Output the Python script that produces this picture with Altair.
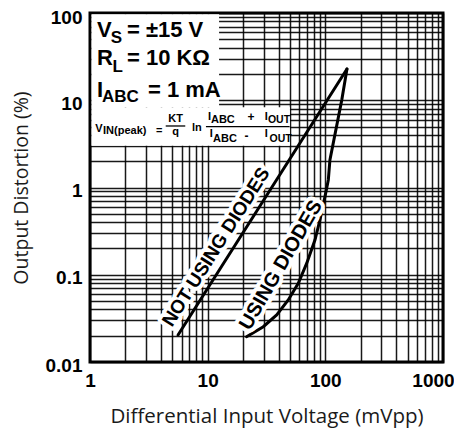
import altair as alt
import pandas as pd

# ---------------- data ----------------
not_using_x = [5.6, 152.7]
not_using_y = [0.0204, 22.8]
using_x = [21.4, 29.7, 38.6, 48.4, 58.9, 69.4, 81.6, 90.0, 99.3, 106.0, 109.4, 138.0, 152.7]
using_y = [0.0195, 0.0254, 0.0346, 0.0514, 0.0798, 0.135, 0.25, 0.425, 0.785, 1.22, 2.07, 10.1, 22.8]

x_tick_labels = [1, 10, 100, 1000]
y_tick_labels = [0.01, 0.1, 1, 10, 100]
x_grid = [1, 2, 3, 4, 5, 6, 7, 8, 9,
          10, 20, 30, 40, 50, 60, 70, 80, 90,
          100, 200, 300, 400, 500, 600, 700, 800, 900, 1000]
y_grid = [0.01, 0.02, 0.03, 0.04, 0.05, 0.06, 0.07, 0.08, 0.09,
          0.1, 0.2, 0.3, 0.4, 0.5, 0.6, 0.7, 0.8, 0.9,
          1, 2, 3, 4, 5, 6, 7, 8, 9,
          10, 20, 30, 40, 50, 60, 70, 80, 90, 100]

# conditions box (white background areas)
box_x = [1.03, 1.03]
box_x2 = [12.5, 50.0]
box_y = [8.3, 3.0]
box_y2 = [97.0, 8.3]

# condition text pieces
cond_text = ["V", "S", "= ±15 V", "R", "L", "= 10 KΩ", "I", "ABC", "= 1 mA"]
cond_x = [1.147, 1.50, 2.06, 1.147, 1.55, 2.06, 1.147, 1.265, 3.11]
cond_y = [53.1, 45.3, 53.1, 25.4, 21.1, 25.4, 10.9, 9.55, 10.9]
cond_size = [22, 17, 22, 22, 17, 22, 22, 17, 22]

# formula pieces (left aligned)
form_text = ["V", "IN(peak)", "=", "ln",
             "I", "ABC", "I", "OUT",
             "I", "ABC", "I", "OUT"]
form_x = [1.109, 1.29, 3.64, 7.36,
          10.06, 10.67, 30.5, 32.5,
          10.4, 11.1, 30.5, 33.6]
form_y = [4.36, 4.10, 4.10, 4.48,
          5.94, 5.53, 5.94, 5.44,
          3.76, 3.35, 3.76, 3.32]
form_size = [11, 11, 11, 11,
             11, 11, 11, 10.5,
             11, 11, 11, 10.5]
# formula pieces (centred)
formc_text = ["KT", "q", "+", "-"]
formc_x = [5.33, 5.33, 23.3, 21.4]
formc_y = [5.65, 3.95, 5.78, 3.50]
formc_size = [11, 11, 12, 12]
# fraction bars
bar_x = [4.40, 9.67]
bar_x2 = [6.45, 49.7]
bar_y = [5.07, 4.98]

# curve labels
lab_text = ["NOT USING DIODES", "USING DIODES"]
lab_x = [11.8, 42.0]
lab_y = [0.208, 0.129]
lab_angle = [302.4, 300.0]
lab_size = [19, 20]

# ---------------- chart ----------------
FONT_B = "Liberation Sans, Arial, sans-serif"
FONT_T = "Open Sans, Noto Sans, sans-serif"

xs = alt.Scale(type="log", domain=[1, 1000], nice=False)
ys = alt.Scale(type="log", domain=[0.01, 100], nice=False)

x_axis = alt.Axis(
    values=x_grid,
    title="Differential Input Voltage (mVpp)",
    labelExpr=f"indexof({x_tick_labels}, datum.value) >= 0 ? format(datum.value, '~g') : ''",
    labelPadding=9, titlePadding=16, labelFlush=False, titleFontSize=20.5,
    labelOffset=alt.expr("datum.value == 1000 ? -10 : 0"),
)
y_axis = alt.Axis(
    values=y_grid,
    title="Output Distortion (%)",
    labelExpr=f"indexof({y_tick_labels}, datum.value) >= 0 ? format(datum.value, '~g') : ''",
    labelPadding=8, titlePadding=14, labelFlush=False, titleFontSize=19.5,
    labelOffset=alt.expr("datum.value == 100 ? 4 : 3"),
)

X = alt.X("x:Q", scale=xs, axis=x_axis)
Y = alt.Y("y:Q", scale=ys, axis=y_axis)

rect_df = pd.DataFrame({"x": box_x, "x2": box_x2, "y": box_y, "y2": box_y2})
rects = alt.Chart(rect_df).mark_rect(color="white").encode(
    x=X, x2="x2:Q", y=Y, y2="y2:Q")

line_df = pd.concat([
    pd.DataFrame({"x": not_using_x, "y": not_using_y, "s": "not"}),
    pd.DataFrame({"x": using_x, "y": using_y, "s": "using"}),
])
lines = alt.Chart(line_df).mark_line(color="black", strokeWidth=3, strokeCap="round").encode(
    x=X, y=Y, detail="s:N")

lab_df = pd.DataFrame({"x": lab_x, "y": lab_y, "t": lab_text, "a": lab_angle, "s": lab_size})
halo = alt.Chart(lab_df).mark_text(
    font=FONT_B, fontWeight="bold", color="white", stroke="white", strokeWidth=8,
    strokeJoin="round", baseline="middle", align="center").encode(
    x=X, y=Y, text="t:N", angle=alt.Angle("a:Q", scale=None), size=alt.Size("s:Q", scale=None))
labs = alt.Chart(lab_df).mark_text(
    font=FONT_B, fontWeight="bold", color="black", baseline="middle", align="center").encode(
    x=X, y=Y, text="t:N", angle=alt.Angle("a:Q", scale=None), size=alt.Size("s:Q", scale=None))

cond_df = pd.DataFrame({"x": cond_x, "y": cond_y, "t": cond_text, "s": cond_size})
cond = alt.Chart(cond_df).mark_text(
    font=FONT_B, fontWeight="bold", color="black", align="left", baseline="alphabetic").encode(
    x=X, y=Y, text="t:N", size=alt.Size("s:Q", scale=None))

form_df = pd.DataFrame({"x": form_x, "y": form_y, "t": form_text, "s": form_size})
form = alt.Chart(form_df).mark_text(
    font=FONT_B, fontWeight="bold", color="black", align="left", baseline="alphabetic").encode(
    x=X, y=Y, text="t:N", size=alt.Size("s:Q", scale=None))

formc_df = pd.DataFrame({"x": formc_x, "y": formc_y, "t": formc_text, "s": formc_size})
formc = alt.Chart(formc_df).mark_text(
    font=FONT_B, fontWeight="bold", color="black", align="center", baseline="alphabetic").encode(
    x=X, y=Y, text="t:N", size=alt.Size("s:Q", scale=None))

bar_df = pd.DataFrame({"x": bar_x, "x2": bar_x2, "y": bar_y})
bars = alt.Chart(bar_df).mark_rule(color="black", strokeWidth=1.3).encode(
    x=X, x2="x2:Q", y=Y)

chart = alt.layer(rects, lines, halo, labs, cond, form, formc, bars).properties(
    width=353, height=349,
    padding={"left": 82, "top": 5, "right": 11, "bottom": 68},
    autosize=alt.AutoSizeParams(type="none"),
    background="white",
).configure_view(
    stroke="black", strokeWidth=3,
).configure_axis(
    grid=True, gridColor="black", gridWidth=1.5, gridOpacity=0.9,
    ticks=False, domain=False, labelOverlap=False,
    labelFont=FONT_B, labelFontWeight="bold", labelFontSize=19, labelColor="black",
    titleFont=FONT_T, titleFontWeight="normal", titleColor="#1a1a1a",
)

chart.save("out.html", embed_options={"renderer": "svg", "actions": False})
